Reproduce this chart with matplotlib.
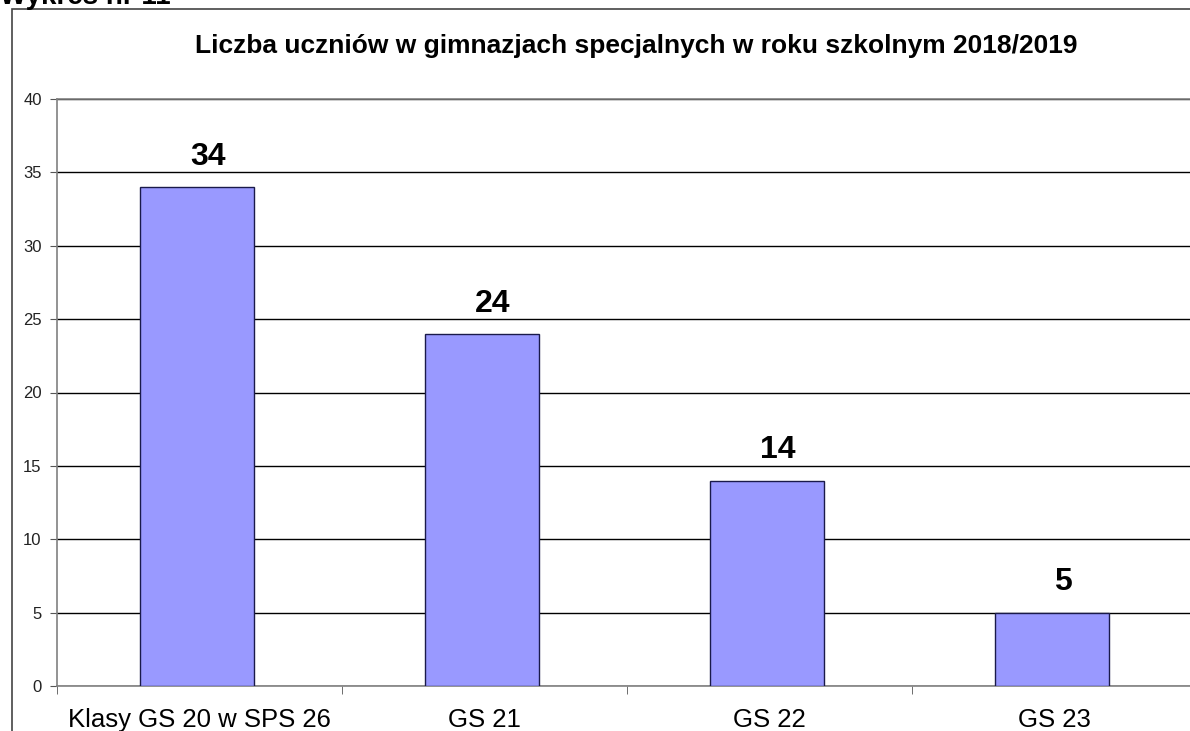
import matplotlib.pyplot as plt
from matplotlib.patches import Rectangle
import numpy as np

plt.rcParams['font.family'] = ['Liberation Sans', 'DejaVu Sans']

categories = ['Klasy GS 20 w SPS 26', 'GS 21', 'GS 22', 'GS 23']
students = [34, 24, 14, 5]
title = 'Liczba uczniów w gimnazjach specjalnych w roku szkolnym 2018/2019'

W, H = 1190, 731
fig = plt.figure(figsize=(W / 100, H / 100), dpi=100)

# outer chart frame (partly cropped like the scan)
fig.patches.append(Rectangle((12 / W, -0.1), 1.2, 1 - 9 / H + 0.1,
                             transform=fig.transFigure, fill=False,
                             edgecolor='#444444', linewidth=1.2))
fig.text(0.0, 1 - 4 / H, 'Wykres nr 11', fontsize=20, fontweight='bold',
         ha='left', va='baseline')

left, right = 57 / W, 1197 / W
bottom, top = 1 - 686 / H, 1 - 99 / H
ax = fig.add_axes([left, bottom, right - left, top - bottom])

x = np.arange(len(categories))
ax.bar(x - 0.01, students, width=0.4, color='#9999ff', edgecolor='#1a1a4a',
       linewidth=1.0, zorder=3)
for xi, v in zip(x, students):
    ax.annotate(str(v), (xi + 0.03, v), xytext=(0, 11),
                textcoords='offset points', ha='center', va='bottom',
                fontsize=23, fontweight='bold')

ax.set_xlim(-0.5, len(categories) - 0.5)
ax.set_ylim(0, 40)
ax.set_yticks(np.arange(0, 41, 5))
ax.yaxis.grid(True, color='black', linewidth=1.0, zorder=0)
ax.set_xticks(x)
ax.set_xticklabels(categories, fontsize=18.5)
ax.set_xticks(np.arange(-0.5, len(categories), 1), minor=True)
ax.tick_params(axis='x', which='major', length=0, pad=16)
ax.tick_params(axis='x', which='minor', length=6, color='#555555')
ax.tick_params(axis='y', length=5, color='#555555', labelsize=12,
               labelcolor='#222222', pad=6)
for side in ['left', 'bottom', 'top', 'right']:
    ax.spines[side].set_color('#808080')
    ax.spines[side].set_linewidth(1.2)

fig.text(636 / W, 1 - 46 / H, title, fontsize=19, fontweight='bold',
         ha='center', va='center')

fig.savefig('out.png', dpi=100)
